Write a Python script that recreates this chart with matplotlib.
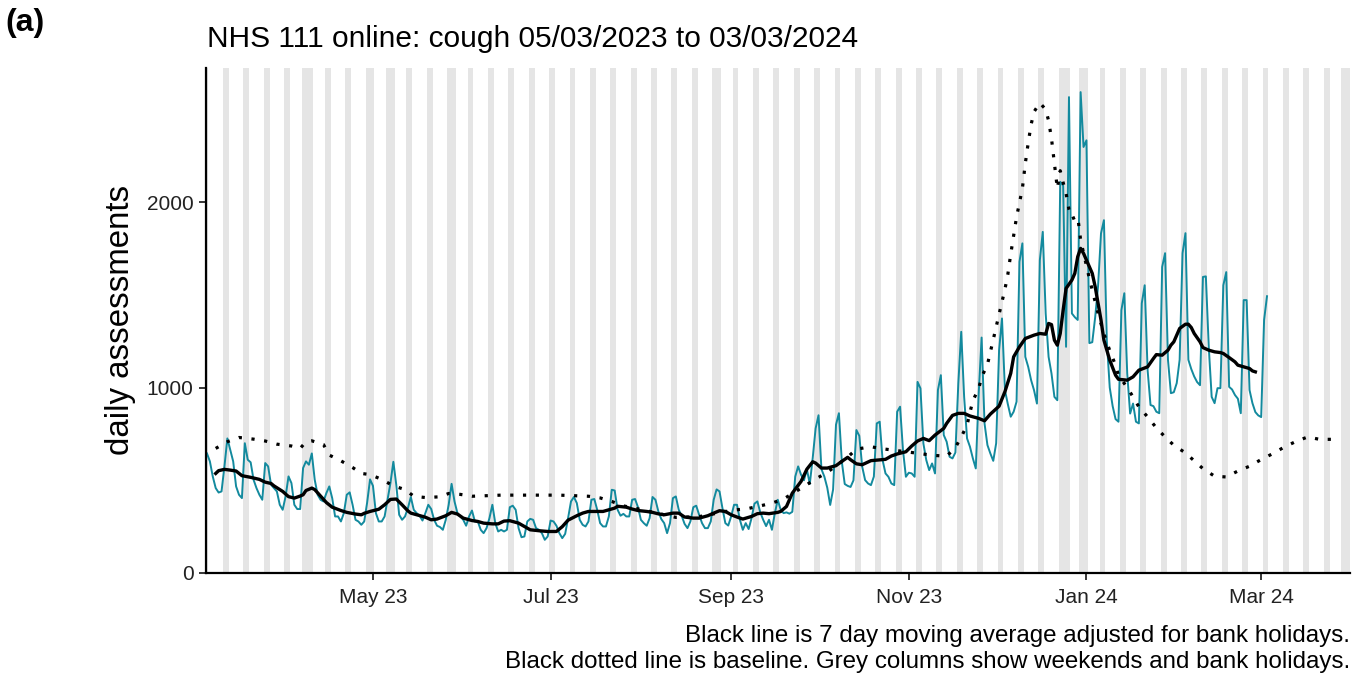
import pandas as pd
import matplotlib
matplotlib.use("Agg")
import matplotlib.pyplot as plt
import matplotlib.dates as mdates

plt.rcParams['font.family'] = ['Liberation Sans', 'DejaVu Sans']

start = pd.Timestamp('2023-03-05')

# daily assessments, one row per week (Sun..Sat) starting Sun 05/03/2023
daily = [
    645, 602, 520, 458, 434, 440, 575,
    726, 663, 602, 467, 422, 404, 700,
    611, 597, 503, 458, 422, 395, 593,
    575, 476, 458, 440, 368, 341, 413,
    521, 485, 368, 345, 345, 566, 602,
    584, 645, 503, 422, 395, 386, 431,
    467, 404, 305, 305, 278, 323, 422,
    435, 368, 287, 278, 260, 278, 380,
    505, 470, 323, 278, 278, 305, 395,
    485, 600, 476, 314, 287, 305, 350,
    410, 341, 323, 309, 283, 323, 368,
    345, 287, 255, 248, 233, 287, 368,
    481, 386, 323, 305, 287, 255, 305,
    337, 278, 278, 233, 215, 242, 296,
    368, 269, 224, 233, 224, 233, 355,
    363, 341, 242, 193, 197, 278, 292,
    287, 242, 233, 215, 179, 197, 283,
    278, 255, 215, 188, 211, 296, 386,
    410, 377, 287, 260, 251, 278, 395,
    399, 341, 269, 251, 251, 305, 449,
    445, 341, 309, 319, 305, 305, 395,
    399, 355, 287, 269, 255, 296, 410,
    395, 332, 291, 269, 215, 269, 404,
    413, 341, 309, 265, 242, 278, 355,
    363, 314, 269, 242, 242, 278, 395,
    451, 440, 350, 269, 256, 305, 368,
    368, 287, 233, 269, 237, 296, 374,
    386, 327, 287, 253, 287, 233, 323,
    395, 341, 323, 327, 320, 330, 520,
    575, 530, 500, 560, 480, 620, 780,
    851, 560, 520, 460, 367, 450, 800,
    862, 600, 480, 470, 464, 500, 771,
    740, 573, 501, 483, 474, 520, 807,
    816, 609, 537, 519, 483, 474, 870,
    897, 663, 519, 541, 537, 519, 1031,
    996, 699, 609, 555, 591, 537, 987,
    1067, 744, 708, 627, 618, 650, 1022,
    1301, 950, 726, 681, 618, 564, 969,
    1270, 807, 690, 645, 605, 700, 1202,
    1373, 987, 911, 843, 870, 924, 1679,
    1778, 1166, 1112, 1040, 986, 914, 1688,
    1840, 1400, 1166, 1076, 950, 932, 2110,
    2090, 1220, 2567, 1400, 1380, 1365, 2594,
    2298, 2334, 1240, 1245, 1380, 1550, 1832,
    1903, 1250, 1000, 900, 830, 816, 1418,
    1509, 1076, 860, 914, 816, 807, 1455,
    1552, 1094, 906, 900, 870, 862, 1651,
    1725, 1149, 970, 975, 1024, 1150, 1725,
    1833, 1150, 1100, 1060, 1030, 1013, 1597,
    1600, 1219, 950, 916, 997, 997, 1552,
    1623, 1004, 990, 960, 940, 862, 1472,
    1472, 987, 916, 868, 850, 841, 1365,
    1493,
]

# 7 day moving average (days after 05/03/2023, value)
ma_day = [3, 4, 6, 8, 10, 12, 15, 18, 20, 22, 23, 26, 28, 30, 32, 33, 34, 36, 37, 39,
          41, 43, 46, 48, 51, 53, 54, 56, 59, 61, 63, 65, 67, 69, 70, 72, 75, 77, 79, 82,
          84, 86, 88, 91, 93, 95, 98, 100, 102, 104, 107, 109, 111, 114, 117, 120, 122, 124, 127, 129,
          131, 133, 136, 138, 140, 141, 144, 146, 148, 151, 153, 155, 157, 160, 162, 164, 167, 169, 172, 174,
          176, 178, 180, 182, 184, 187, 189, 191, 193, 196, 197, 199, 201, 204, 206, 208, 209, 211, 213, 216,
          218, 220, 221, 223, 225, 228, 230, 233, 235, 237, 240, 242, 244, 246, 248, 250, 253, 254, 256, 258,
          260, 262, 265, 267, 269, 272, 274, 276, 277, 279, 281, 284, 286, 288, 289, 290, 291, 292, 293, 294,
          295, 297, 298, 299, 300, 301, 302, 304, 305, 306, 307, 308, 310, 312, 313, 316, 318, 320, 321, 323,
          325, 326, 328, 330, 331, 332, 333, 334, 336, 337, 338, 339, 341, 342, 344, 346, 348, 349, 351, 353,
          354, 356, 358, 359, 360]
ma_val = [537, 552, 559, 555, 550, 525, 516, 505, 490, 483, 470, 440, 412, 404, 415, 422, 445, 458, 450, 415,
          380, 355, 337, 327, 318, 314, 322, 332, 344, 368, 397, 399, 368, 335, 323, 314, 301, 287, 291, 309,
          327, 318, 296, 283, 278, 269, 265, 265, 280, 282, 269, 251, 233, 228, 224, 224, 250, 285, 309, 323,
          332, 332, 332, 341, 350, 360, 355, 345, 337, 332, 327, 319, 314, 323, 323, 302, 296, 296, 309, 323,
          336, 332, 314, 302, 291, 305, 320, 323, 320, 327, 332, 359, 431, 494, 560, 600, 593, 566, 566, 579,
          602, 624, 611, 589, 584, 606, 609, 613, 631, 642, 654, 685, 712, 726, 714, 744, 780, 807, 850, 861,
          861, 847, 834, 821, 857, 900, 978, 1077, 1166, 1220, 1265, 1283, 1292, 1288, 1346, 1340, 1256, 1229, 1292, 1418,
          1535, 1580, 1616, 1706, 1751, 1724, 1688, 1616, 1544, 1454, 1364, 1256, 1148, 1067, 1045, 1040, 1058, 1094, 1100, 1112,
          1157, 1178, 1175, 1202, 1229, 1247, 1283, 1319, 1342, 1342, 1324, 1292, 1247, 1216, 1202, 1193, 1189, 1184, 1162, 1139,
          1121, 1112, 1103, 1090, 1085]

# baseline (days after 05/03/2023, value)
base_day = [3, 7, 11, 16, 20, 24, 29, 32, 34, 36, 40, 42, 46, 50, 53, 56, 60, 64, 68, 71,
            75, 80, 83, 87, 91, 101, 113, 121, 131, 135, 139, 143, 148, 161, 169, 181, 185, 190, 194, 198,
            205, 209, 213, 220, 223, 228, 232, 236, 241, 245, 249, 254, 257, 259, 261, 262, 263, 265, 266, 268,
            269, 270, 271, 272, 273, 274, 275, 276, 278, 280, 281, 282, 283, 284, 286, 288, 289, 290, 291, 292,
            293, 294, 295, 296, 297, 299, 300, 303, 304, 305, 306, 308, 310, 312, 313, 316, 318, 320, 323, 326,
            329, 332, 336, 339, 342, 346, 350, 354, 358, 362, 366, 370, 374, 378, 382, 387]
base_val = [672, 708, 731, 722, 712, 695, 685, 672, 708, 713, 693, 636, 605, 569, 537, 531, 505, 470, 450, 414,
            407, 411, 429, 424, 414, 420, 420, 420, 414, 405, 386, 362, 346, 300, 304, 340, 345, 362, 377, 399,
            467, 507, 543, 625, 668, 681, 670, 662, 652, 644, 635, 630, 677, 734, 797, 866, 930, 994, 1057, 1124,
            1192, 1259, 1328, 1396, 1463, 1530, 1610, 1720, 1920, 2074, 2209, 2320, 2419, 2488, 2536, 2500, 2440, 2343, 2209, 2074,
            2170, 2106, 2048, 1960, 1911, 1924, 1796, 1589, 1526, 1463, 1400, 1290, 1200, 1120, 1067, 1000, 950, 896, 842, 783,
            734, 689, 648, 605, 563, 522, 518, 550, 576, 612, 644, 680, 710, 734, 721, 721]

bank_holidays = ['2023-04-07', '2023-04-10', '2023-05-01', '2023-05-08', '2023-05-29',
                 '2023-08-28', '2023-12-25', '2023-12-26', '2024-01-01',
                 '2024-03-29', '2024-04-01']

xticks = ['2023-05-01', '2023-07-01', '2023-09-01', '2023-11-01', '2024-01-01', '2024-03-01']
yticks = [0, 1000, 2000]

dates = pd.date_range(start, periods=len(daily), freq='D')
ma_dates = start + pd.to_timedelta(ma_day, unit='D')
base_dates = start + pd.to_timedelta(base_day, unit='D')

W, H = 1359, 675
fig = plt.figure(figsize=(W / 100, H / 100), dpi=100)
ax = fig.add_axes([206 / W, 1 - 573 / H, (1350 - 206) / W, (573 - 68) / H])

# grey columns: weekends and bank holidays
half = pd.Timedelta(hours=12)
hol = pd.to_datetime(bank_holidays)
for d in pd.date_range('2023-03-04', '2024-04-01'):
    if d.weekday() >= 5 or d in hol:
        ax.axvspan(d - half, d + half, color='#e5e5e5', lw=0, zorder=0)

ax.plot(dates, daily, color='#138a9e', lw=1.4, zorder=2)
ax.plot(base_dates, base_val, color='black', lw=2.3, ls=(0, (1, 3)), zorder=3)
ax.plot(ma_dates, ma_val, color='black', lw=2.4, zorder=4)

ax.set_xlim(start - pd.Timedelta(hours=8), pd.Timestamp('2024-03-31 12:00'))
ax.set_ylim(0, 2724)
ax.set_xticks(pd.to_datetime(xticks))
ax.xaxis.set_major_formatter(mdates.DateFormatter('%b %y'))
ax.set_yticks(yticks)

for s in ['top', 'right']:
    ax.spines[s].set_visible(False)
for s in ['left', 'bottom']:
    ax.spines[s].set_linewidth(1.6)
ax.tick_params(length=5, width=1.1, labelsize=15, labelcolor='#222222')
ax.tick_params(axis='x', pad=6)
ax.tick_params(axis='y', pad=4)

fig.text(120 / W, 1 - 320 / H, 'daily assessments', rotation=90, ha='center', va='center', fontsize=23.8)
fig.text(207 / W, 1 - 47 / H, 'NHS 111 online: cough 05/03/2023 to 03/03/2024', ha='left', va='baseline', fontsize=21.5)
fig.text(5 / W, 1 - 31 / H, '(a)', ha='left', va='baseline', fontsize=23, fontweight='bold')
fig.text(1350 / W, 1 - 642 / H, 'Black line is 7 day moving average adjusted for bank holidays.',
         ha='right', va='baseline', fontsize=17.4)
fig.text(1350 / W, 1 - 668 / H, 'Black dotted line is baseline. Grey columns show weekends and bank holidays.',
         ha='right', va='baseline', fontsize=17.4)

fig.savefig('out.png', dpi=100)
